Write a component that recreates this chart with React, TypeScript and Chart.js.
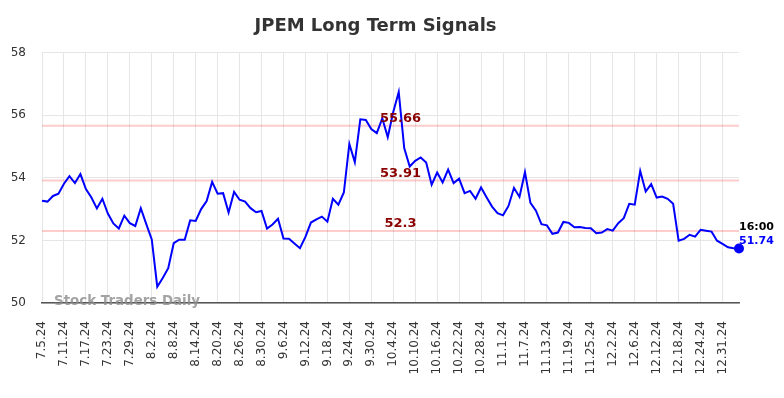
import React, { useEffect, useRef } from "react";
import { Chart, registerables } from "chart.js";

Chart.register(...registerables);

const TITLE = "JPEM Long Term Signals";
const WATERMARK = "Stock Traders Daily";

const dates: string[] = [
  "7.5.24", "7.8.24", "7.9.24", "7.10.24", "7.11.24", "7.12.24", "7.15.24", "7.16.24", "7.17.24", "7.18.24",
  "7.19.24", "7.22.24", "7.23.24", "7.24.24", "7.25.24", "7.26.24", "7.29.24", "7.30.24", "7.31.24",
  "8.1.24", "8.2.24", "8.5.24", "8.6.24", "8.7.24", "8.8.24", "8.9.24", "8.12.24", "8.13.24", "8.14.24",
  "8.15.24", "8.16.24", "8.19.24", "8.20.24", "8.21.24", "8.22.24", "8.23.24", "8.26.24", "8.27.24",
  "8.28.24", "8.29.24", "8.30.24",
  "9.3.24", "9.4.24", "9.5.24", "9.6.24", "9.9.24", "9.10.24", "9.11.24", "9.12.24", "9.13.24", "9.16.24",
  "9.17.24", "9.18.24", "9.19.24", "9.20.24", "9.23.24", "9.24.24", "9.25.24", "9.26.24", "9.27.24", "9.30.24",
  "10.1.24", "10.2.24", "10.3.24", "10.4.24", "10.7.24", "10.8.24", "10.9.24", "10.10.24", "10.11.24",
  "10.14.24", "10.15.24", "10.16.24", "10.17.24", "10.18.24", "10.21.24", "10.22.24", "10.23.24", "10.24.24",
  "10.25.24", "10.28.24", "10.29.24", "10.30.24", "10.31.24",
  "11.1.24", "11.4.24", "11.5.24", "11.6.24", "11.7.24", "11.8.24", "11.11.24", "11.12.24", "11.13.24",
  "11.14.24", "11.15.24", "11.18.24", "11.19.24", "11.20.24", "11.21.24", "11.22.24", "11.25.24", "11.26.24",
  "11.27.24", "11.29.24",
  "12.2.24", "12.3.24", "12.4.24", "12.5.24", "12.6.24", "12.9.24", "12.10.24", "12.11.24", "12.12.24",
  "12.13.24", "12.16.24", "12.17.24", "12.18.24", "12.19.24", "12.20.24", "12.23.24", "12.24.24", "12.26.24",
  "12.27.24", "12.30.24", "12.31.24",
  "1.2.25", "1.3.25", "1.6.25",
];

const prices: number[] = [
  53.27, 53.24, 53.42, 53.49, 53.81, 54.05, 53.83, 54.12, 53.64, 53.37,
  53.02, 53.33, 52.86, 52.54, 52.38, 52.79, 52.55, 52.46, 53.03, 52.52,
  52.03, 50.52, 50.8, 51.11, 51.91, 52.02, 52.02, 52.64, 52.62, 53.0,
  53.26, 53.87, 53.49, 53.51, 52.89, 53.55, 53.3, 53.24, 53.03, 52.9,
  52.94, 52.38, 52.51, 52.69, 52.06, 52.05, 51.9, 51.75, 52.11, 52.57,
  52.67, 52.76, 52.6, 53.33, 53.14, 53.53, 55.08, 54.5, 55.87, 55.85,
  55.56, 55.43, 55.9, 55.3, 56.1, 56.74, 54.95, 54.36, 54.54, 54.65,
  54.49, 53.78, 54.17, 53.85, 54.26, 53.83, 53.97, 53.51, 53.58, 53.33,
  53.69, 53.38, 53.08, 52.87, 52.8, 53.1, 53.68, 53.39, 54.18, 53.2,
  52.95, 52.52, 52.48, 52.21, 52.25, 52.59, 52.56, 52.42, 52.43, 52.4,
  52.39, 52.23, 52.25, 52.36, 52.31, 52.55, 52.71, 53.17, 53.14, 54.22,
  53.56, 53.8, 53.37, 53.4, 53.33, 53.17, 51.99, 52.05, 52.18, 52.12,
  52.34, 52.31, 52.28, 51.99, 51.89, 51.78, 51.75, 51.74,
];

const levels: number[] = [55.66, 53.91, 52.3];
const levelLabels: string[] = ["55.66", "53.91", "52.3"];
const yTicks: number[] = [50, 52, 54, 56, 58];
const lastTime = "16:00";
const lastLabel = "51.74";

const FONT = "'DejaVu Sans', sans-serif";

const overlayPlugin = {
  id: "overlay",
  beforeDatasetsDraw(chart: any) {
    const { ctx, chartArea, scales } = chart;
    const y = scales.y;
    ctx.save();
    ctx.strokeStyle = "rgba(255,0,0,0.2)";
    ctx.lineWidth = 2;
    levels.forEach((v) => {
      const py = y.getPixelForValue(v);
      ctx.beginPath();
      ctx.moveTo(chartArea.left, py);
      ctx.lineTo(chartArea.right, py);
      ctx.stroke();
    });
    ctx.restore();
  },
  afterDraw(chart: any) {
    const { ctx, chartArea, scales } = chart;
    const x = scales.x;
    const y = scales.y;
    ctx.save();
    ctx.font = `bold 13px ${FONT}`;
    ctx.fillStyle = "#8b0000";
    ctx.textAlign = "center";
    ctx.textBaseline = "alphabetic";
    const cx = (chartArea.left + chartArea.right) / 2 + 10;
    levels.forEach((v, i) => {
      const py = y.getPixelForValue(v);
      ctx.fillText(levelLabels[i], cx, py - 4);
    });
    ctx.font = `bold 13.4px ${FONT}`;
    ctx.fillStyle = "rgba(140,140,140,0.8)";
    ctx.textAlign = "left";
    ctx.textBaseline = "middle";
    ctx.fillText(WATERMARK, chartArea.left + 12, chartArea.bottom - 1);
    const li = prices.length - 1;
    const px = x.getPixelForValue(li);
    const py = y.getPixelForValue(prices[li]);
    ctx.font = `bold 11px ${FONT}`;
    ctx.textAlign = "left";
    ctx.textBaseline = "alphabetic";
    ctx.fillStyle = "#000";
    ctx.fillText(lastTime, px, py - 19);
    ctx.fillStyle = "#0000ff";
    ctx.fillText(lastLabel, px, py - 5);
    ctx.restore();
  },
};

export default function App() {
  const ref = useRef<HTMLCanvasElement | null>(null);
  useEffect(() => {
    if (!ref.current) return;
    const chart = new Chart(ref.current, {
      type: "line",
      data: {
        labels: dates,
        datasets: [
          {
            data: prices,
            borderColor: "#0000ff",
            borderWidth: 2,
            pointRadius: (c: any) => (c.dataIndex === prices.length - 1 ? 4 : 0),
            pointBackgroundColor: "#0000ff",
            pointBorderColor: "#0000ff",
            tension: 0,
            fill: false,
          },
        ],
      },
      options: {
        animation: false,
        responsive: false,
        devicePixelRatio: 1,
        layout: { padding: { left: 12, right: 45, top: 0, bottom: 0 } },
        plugins: {
          legend: { display: false },
          tooltip: { enabled: false },
          title: {
            display: true,
            text: TITLE,
            color: "#333",
            font: { family: FONT, size: 18, weight: "bold" },
            padding: { top: 16, bottom: 15 },
          },
        },
        scales: {
          x: {
            type: "category",
            offset: false,
            afterFit: (s: any) => {
              s.height = 95;
            },
            grid: {
              color: (c: any) => (c.index % 4 === 0 ? "#e6e6e6" : "rgba(0,0,0,0)"),
              drawTicks: false,
            },
            border: { display: true, color: "#555", width: 1.5 },
            ticks: {
              autoSkip: false,
              maxRotation: 90,
              minRotation: 90,
              padding: 18,
              color: "#333",
              font: { family: FONT, size: 12 },
              callback: (_v: any, i: number) => (i % 4 === 0 ? dates[i] : ""),
            },
          },
          y: {
            min: 50,
            max: 58,
            afterFit: (s: any) => {
              s.width = 30;
            },
            afterBuildTicks: (s: any) => {
              s.ticks = yTicks.map((v) => ({ value: v }));
            },
            grid: { color: "#e6e6e6", drawTicks: false },
            border: { display: false },
            ticks: {
              padding: 16,
              color: "#333",
              font: { family: FONT, size: 12 },
            },
          },
        },
      },
      plugins: [overlayPlugin],
    });
    return () => chart.destroy();
  }, []);
  return (
    <div style={{ position: "absolute", left: 0, top: 0, width: 784, height: 398 }}>
      <canvas ref={ref} width={784} height={398} style={{ width: 784, height: 398 }} />
    </div>
  );
}
